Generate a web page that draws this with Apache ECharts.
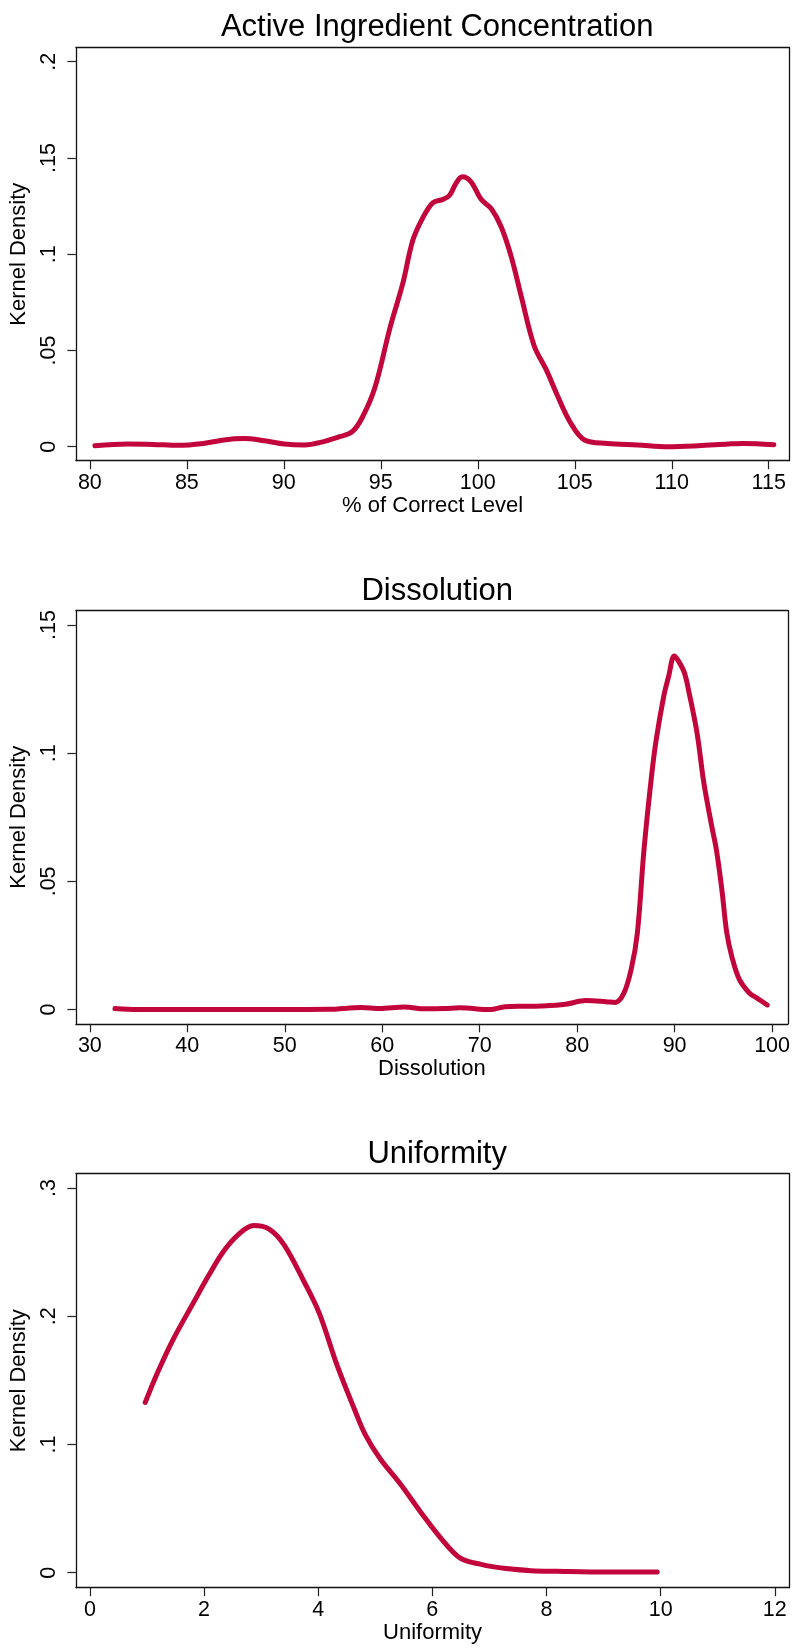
<!DOCTYPE html>
<html>
<head>
<meta charset="utf-8">
<script src="https://cdn.jsdelivr.net/npm/echarts@6/dist/echarts.min.js"></script>
<style>
  html, body { margin: 0; padding: 0; background: #fff; }
  #chart { width: 793px; height: 1651px; }
</style>
</head>
<body>
<div id="chart"></div>
<script>
// Active Ingredient Concentration
var aicX = [80.26, 81.95, 83.25, 84.55, 85.85, 86.9, 87.94, 88.98, 90.02, 91.06, 92.1, 92.88, 93.53, 94.05, 94.7, 95.48, 96.13, 96.65, 97.17, 97.69, 98.21, 98.55, 98.87, 99.2, 99.65, 100.17, 100.69, 101.21, 101.73, 102.25, 102.9, 103.55, 104.07, 104.72, 105.5, 106.67, 108.24, 109.8, 111.36, 112.92, 113.7, 115.26];
var aicY = [0.0005, 0.0014, 0.0012, 0.0007, 0.0017, 0.0035, 0.0042, 0.0031, 0.0014, 0.0009, 0.0028, 0.0052, 0.0078, 0.0153, 0.0309, 0.062, 0.0847, 0.1072, 0.119, 0.1268, 0.1285, 0.1306, 0.1367, 0.1402, 0.1376, 0.1285, 0.1237, 0.1141, 0.0985, 0.0777, 0.0526, 0.0395, 0.0274, 0.0135, 0.0035, 0.0017, 0.0009, 0.0, 0.0005, 0.0014, 0.0017, 0.001];

// Dissolution
var dissX = [32.58, 34.9, 41.6, 49.4, 54.5, 57.9, 59.7, 62.3, 64.35, 66.4, 67.97, 71.07, 72.6, 74.7, 76.2, 78.8, 80.9, 82.95, 83.9, 84.78, 85.56, 86.18, 86.85, 87.6, 88.1, 88.9, 89.4, 89.96, 90.3, 90.98, 91.5, 92.3, 93.0, 93.8, 94.3, 94.85, 95.35, 95.9, 96.64, 97.67, 98.45, 99.5];
var dissY = [0.0004, 0, 0, 0, 0.0001, 0.0008, 0.0004, 0.001, 0.0003, 0.0004, 0.0007, 0, 0.0011, 0.0013, 0.0014, 0.0021, 0.0035, 0.0031, 0.0028, 0.0063, 0.016, 0.03, 0.062, 0.09, 0.105, 0.1225, 0.1302, 0.1379, 0.1365, 0.1316, 0.1233, 0.1079, 0.0884, 0.0717, 0.062, 0.0467, 0.03, 0.0202, 0.0118, 0.0065, 0.0045, 0.0018];

// Uniformity
var unifX = [0.97, 1.19, 1.46, 1.81, 2.08, 2.34, 2.61, 2.87, 3.14, 3.40, 3.76, 4.02, 4.33, 4.64, 4.82, 5.08, 5.44, 5.79, 6.14, 6.49, 6.85, 7.29, 7.73, 8.17, 9.06, 9.94];
var unifY = [0.1328, 0.1565, 0.182, 0.2102, 0.2317, 0.2505, 0.264, 0.2707, 0.268, 0.2559, 0.2263, 0.2022, 0.1618, 0.1269, 0.1081, 0.0892, 0.0691, 0.0476, 0.0274, 0.0113, 0.0065, 0.0032, 0.0016, 0.0011, 0.0005, 0.0005];

var titles = ["Active Ingredient Concentration", "Dissolution", "Uniformity"];
var xNames = ["% of Correct Level", "Dissolution", "Uniformity"];
var xTicks = [
  [80, 85, 90, 95, 100, 105, 110, 115],
  [30, 40, 50, 60, 70, 80, 90, 100],
  [0, 2, 4, 6, 8, 10, 12]
];
var yTicks = [
  [0, 0.05, 0.1, 0.15, 0.2],
  [0, 0.05, 0.1, 0.15],
  [0, 0.1, 0.2, 0.3]
];

var FONT = "'Liberation Sans', Arial, Helvetica, sans-serif";
var LINE = "#c2063b";
var FRAME = { color: "#111", width: 1.3 };

// plot regions and axis ranges (Stata keeps a margin round the ticks)
var grids = [
  { left: 75, top: 47.7, width: 714.3, height: 413 },
  { left: 75, top: 610.7, width: 714.3, height: 413.1 },
  { left: 75, top: 1173.7, width: 714.3, height: 414 }
];
var xRange = [[79.28, 116.06], [28.57, 101.61], [-0.245, 12.254]];
var yRange = [[-0.00727, 0.20727], [-0.00554, 0.15558], [-0.0117, 0.31115]];
var titleTop = [7, 571, 1134];

function pairs(xs, ys) {
  return xs.map(function (x, i) { return [x, ys[i]]; });
}
var seriesData = [pairs(aicX, aicY), pairs(dissX, dissY), pairs(unifX, unifY)];

function yLabel(v) {
  return v === 0 ? "0" : String(v).replace(/^0/, "");
}

var option = {
  backgroundColor: "#fff",
  animation: false,
  title: [],
  grid: [],
  xAxis: [],
  yAxis: [],
  series: []
};

[0, 1, 2].forEach(function (i) {
  option.title.push({
    text: titles[i],
    left: 432.2,
    textAlign: "center",
    top: titleTop[i],
    textStyle: { fontFamily: FONT, fontSize: 31, fontWeight: "normal", color: "#000" }
  });
  option.grid.push({
    left: grids[i].left,
    top: grids[i].top,
    width: grids[i].width,
    height: grids[i].height,
    show: false
  });
  // bottom axis (with ticks and labels)
  option.xAxis.push({
    type: "value",
    gridIndex: i,
    position: "bottom",
    min: xRange[i][0],
    max: xRange[i][1],
    name: xNames[i],
    nameLocation: "middle",
    nameGap: 33,
    nameTextStyle: { fontFamily: FONT, fontSize: 22, color: "#000" },
    axisLine: { show: true, onZero: false, lineStyle: FRAME },
    axisTick: {
      show: true,
      length: 8.5,
      customValues: xTicks[i],
      lineStyle: { color: "#222", width: 1.2 }
    },
    axisLabel: {
      customValues: xTicks[i],
      margin: 11,
      fontFamily: FONT,
      fontSize: 21.5,
      color: "#000"
    },
    splitLine: { show: false }
  });
  // top edge of the frame
  option.xAxis.push({
    type: "value",
    gridIndex: i,
    position: "top",
    min: xRange[i][0],
    max: xRange[i][1],
    axisLine: { show: true, onZero: false, lineStyle: FRAME },
    axisTick: { show: false },
    axisLabel: { show: false },
    splitLine: { show: false }
  });
  // left axis
  option.yAxis.push({
    type: "value",
    gridIndex: i,
    position: "left",
    min: yRange[i][0],
    max: yRange[i][1],
    name: "Kernel Density",
    nameLocation: "middle",
    nameGap: 41,
    nameTextStyle: { fontFamily: FONT, fontSize: 22, color: "#000" },
    axisLine: { show: true, onZero: false, lineStyle: FRAME },
    axisTick: {
      show: true,
      length: 8.5,
      customValues: yTicks[i],
      lineStyle: { color: "#222", width: 1.2 }
    },
    axisLabel: {
      customValues: yTicks[i],
      rotate: 90,
      margin: 16,
      fontFamily: FONT,
      fontSize: 21.5,
      color: "#000",
      formatter: yLabel
    },
    splitLine: { show: false }
  });
  // right edge of the frame
  option.yAxis.push({
    type: "value",
    gridIndex: i,
    position: "right",
    min: yRange[i][0],
    max: yRange[i][1],
    axisLine: { show: true, onZero: false, lineStyle: FRAME },
    axisTick: { show: false },
    axisLabel: { show: false },
    splitLine: { show: false }
  });
  option.series.push({
    type: "line",
    xAxisIndex: i * 2,
    yAxisIndex: i * 2,
    data: seriesData[i],
    smooth: 0.35,
    showSymbol: false,
    lineStyle: { color: LINE, width: 5, cap: "round", join: "round" }
  });
});

var myChart = echarts.init(document.getElementById("chart"));
myChart.setOption(option);
</script>
</body>
</html>
